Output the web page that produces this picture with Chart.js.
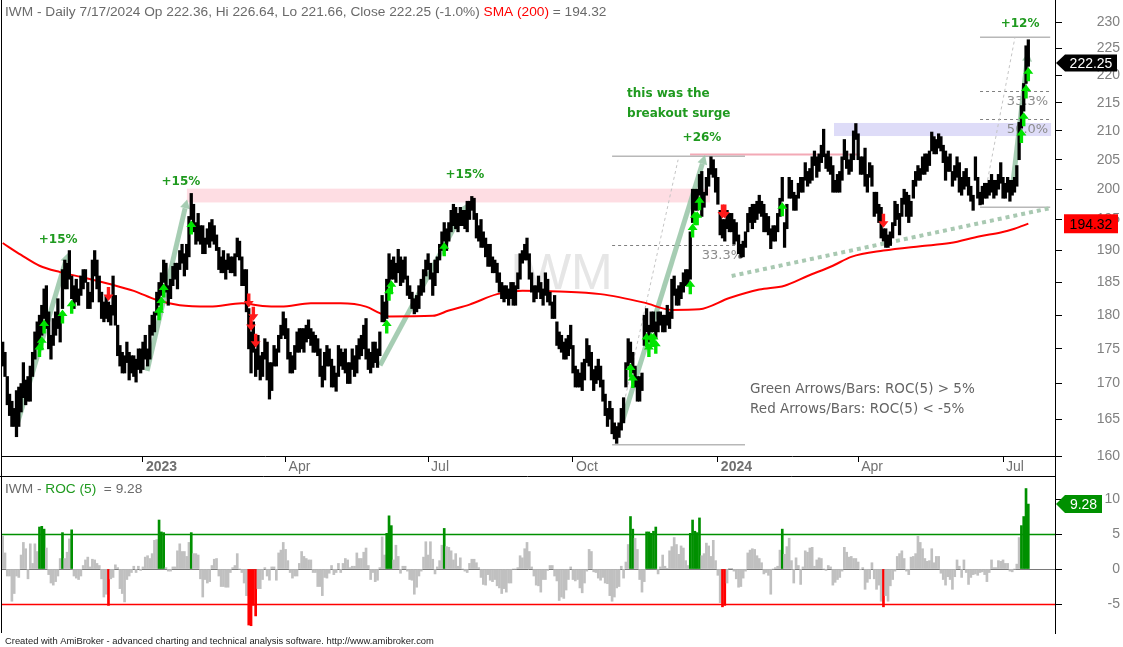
<!DOCTYPE html>
<html>
<head>
<meta charset="utf-8">
<script src="https://cdn.jsdelivr.net/npm/chart.js@4.4.1/dist/chart.umd.min.js"></script>
<style>
  html, body { margin: 0; padding: 0; background: #fff; }
  #wrap { position: relative; width: 1123px; height: 647px; overflow: hidden; background: #fff; }
  #price { position: absolute; left: 0; top: 0; }
  #roc { position: absolute; left: 0; top: 476px; }
</style>
</head>
<body>
<div id="wrap">
  <canvas id="price" width="1123" height="476"></canvas>
  <canvas id="roc" width="1123" height="171"></canvas>
</div>
<script>
// daily bars, index 0 = 10/5/2022 ... 446 = 7/17/2024 (one line per month)
const lo = [
  172.5,171,167,165.5,164,164,162.6,164,166,168,167,167.5,167.5,171,173.5,175,176,177,179.5,
  178,175,173.5,175.5,177,178,176,181,184,184,185.5,182.5,181,182,181.5,183,184,185,181,181,182,
  186,184,182,179.5,179,179.5,179,178.5,180,178.5,174,172.5,171.5,171.5,173,170.5,171.5,171,170.2,172,171.5,
  172,173.5,172.5,173.5,177,177.5,180,181.5,183,185,183.5,181.5,182.5,184.5,185.5,184,187,188,186,187,
  189,195,193,191,191.5,191,189.5,189.5,191,190.5,191.5,191,190,187,186.5,186.5,185.5,187,186.5,
  186.5,186,189,188.5,184.5,184.5,180.5,175,171.5,174.5,171,172,170.5,171,173.5,170.5,167.8,169,172.5,172.5,174.5,176.5,177,
  176.5,173.5,171.5,171.5,172,174.5,174.5,175,174.5,176,176.5,175.5,174.5,174.5,174,171,169.5,170.5,172.5,
  172.5,169.5,169.5,168.9,171,172.5,172,171.5,170,170,172,171,171.5,173.5,174,175,173.5,172,171.5,172.3,173,172.3,
  174,179,179,179.5,184.5,185.5,185.5,185,186.5,184.5,185,185.5,183,182.5,181,180.2,180.5,181,183,183.5,186,
  187,185.5,183,184.5,186.5,188.5,190,191.5,190,191.5,193,194,193.5,193,194,194,193.5,193,195,196.5,
  195,192,191.5,190.5,190.5,189,187.5,187.5,186.5,186.5,185,183.5,182.5,182,182.5,181.5,182.5,181.5,181.5,184,185.5,188,188.5,
  188.5,185.5,183.5,182,182.5,183.5,182.5,181.5,183,182,181.5,179.5,179.5,175.5,175,174.5,173.5,173.5,174,175,
  171.5,169.5,169.5,169.5,169,170.5,173,172.5,170.5,169,170,170.5,169.5,167.5,165.5,164,165,163,162.3,161.7,162.5,163.5,
  164.5,169.5,172.5,173,171.5,169.5,167.5,167.5,169,175.5,177.5,176,177.5,177.5,176.5,177.5,178.5,177.5,177.5,178.5,178,
  179.5,183,181.5,181.5,182.5,183.5,184.5,184.5,185.5,194.5,196.5,196.5,199,195.5,197,199,200.5,202.5,202,199.5,
  197.5,192.5,192,191.5,193.5,193,193,191,191.5,189.5,188.9,189,190.5,193,194.5,193.5,194.5,195,196,195.5,193,
  193,192.5,190.3,191.5,191.5,193,195.5,198,190.5,193.5,198.5,198.5,196.5,196.5,198.5,199.5,199.5,201.5,200.5,201,
  201.5,204,202,203,204.5,205.5,203.5,203,202.5,199.5,199.5,199.5,199.5,201.5,205,203.5,202.5,203,205,208.5,
  205,202.5,202.5,200.5,199.5,202,200.5,195.5,196,194.5,192,191.5,190.5,190.5,190.8,192,194,195,192.5,195.5,197.5,195.5,
  194.5,195.5,198.5,200.5,201.5,201.5,202.5,202.5,203,204,206.5,206,206,207,206.5,204.5,201.5,203,203,200.5,201.5,202,
  199.5,199,200,200.5,199,198,196.5,201.5,198.5,197.4,197.5,198.5,198.5,199,199.5,198.5,199,200,201,
  198.5,198.5,199.5,198,199,199.5,200.5,205,210.5,213.5,218.5,221.66
];
const hi = [
  176,174.5,171,168.5,167.5,166.5,169,169.5,170,173,170.5,171,172.5,174.5,177.5,179,180,181.5,184,
  184.5,180.5,177,179.5,180.5,182.5,180,187,188.5,188,190,186,184.5,185.5,184,186,187,187,185,183.5,188.5,
  190,188.5,186,183.5,182,183,182,181.5,186,183,178.5,175.5,174.5,174,176,174.5,174,174,173.5,175,175,
  176,177,175,178.5,180,180.5,183.5,185,186.5,188.5,188,184.5,185.5,187.5,188,188,190,191,189.5,191,
  195.5,199.3,197.5,194.5,196,194,194,192,193.5,194.5,195,194,192.5,190.5,189,190,188.5,189.5,189,
  189,189.5,192,191.5,189,187,187,181,177.5,179,175,177,174,174.5,176.5,176,173,173,175.5,175,177,178.5,180.5,
  179.5,178,174.5,174,175.5,177.5,178,178,178,178.5,179.3,178,177.5,177,176.5,175,172.5,174.5,175.5,
  175,173.5,172.5,171.5,175.5,175,174.5,175,173,173,175,174,175.5,176.5,177,178.5,179.5,175,174.5,176,176,175,
  177.5,183,182,185.5,189.5,188.5,189,188,190.2,189,188.5,189,186,184.5,183.5,182.5,183,184.5,185.5,187,188.5,
  189.5,188,186.5,188.5,189,191,193,194.5,193.5,194.5,196.5,197.5,197,196,197,196.5,196.5,198,198,198.8,
  198.5,196,194,195,193,192,191,191,189,188.5,188,186.5,185,184.5,184.5,184,185,185,184.5,186.5,189.5,190,191,
  192,189.5,186.5,184.5,184.5,186,185,184,186.5,185.5,183.5,182,183,179,177.5,177,176,176.5,177,178.5,
  175.5,172.5,172,171.5,173,173.5,176.5,175.5,174.5,172,172.5,173.5,172.5,170.5,168.5,166.5,167.5,166.5,164.5,164,164.5,166.5,
  168,173,176.5,176,174.5,172.5,171,171,171.5,180,181,178.5,180.5,180.5,179,180.5,180.5,180,180,181.5,180.5,
  185.5,186,184,184.5,185,186.5,187,187,193,200,200,200,202.5,203,199.5,202,203.5,205.5,205,203.5,
  202,196.5,195,195,196.5,196,196,195,194.5,192.5,191,191.5,193,196,197,197.5,197.5,198,199,198,197.5,
  196,195.5,193.5,194,194,196,198.5,202,194.5,197.5,202,201.5,199.5,199,201,202,202,204.5,203,203.5,
  205.5,206.5,205.5,206,207.5,210.3,206,206.5,205.5,204,201.5,202.5,203,205.5,208.5,206.5,205,206,210,211.3,
  209.5,205.5,205.5,207,202.5,204.5,204,199.5,199.5,197.5,197,193.5,193.5,192.5,193,194.5,198,197.5,196,198.5,200,199.5,
  199,198,201.5,203,204,203.5,205.5,206,206,206.5,209.8,209,208.5,209.5,209,207.5,206.5,205.5,206,203,204,205.5,
  204.5,202,203,203.5,202,200.5,199,205.5,202,199.5,200.5,201,201,201.5,202.5,201.5,201.5,202.5,204.5,
  202,201,202,201.5,201.5,202,204,211.5,214.5,218.5,225.5,226.64
];
// ROC(5) per day, same index
const roc = [
  4.7,2.3,-1,-1,-4.6,-3.5,-1,-1.2,2,3.8,2.9,-1.4,3.6,0.8,3.6,2.5,6,6.1,5.7,
  3,-0.8,-2,-2.3,-1.8,-1,1.5,5.2,1.5,2.4,4.3,5.6,-1,-1.3,-1.5,-1,0.5,1.3,1.7,0.3,1.4,
  1.3,0.8,0.5,-1.4,-4,-3.6,-5.2,-1.4,-1.2,0.6,0.2,-2.8,-3.5,-4.7,-1.5,-1,-0.5,0.4,-0.5,0.4,-0.2,
  0.3,1.7,1.9,1.5,2.2,4.1,4.2,7,5.3,5.2,0.2,-0.3,-0.3,0.3,0.3,2.6,3.6,2.5,2.5,1.8,
  3.8,5.2,2.2,2.2,2,-1.4,-4,-1.5,-2,-1.8,0.5,1.4,1.5,-1,-2.5,-2.5,-2.6,-2.6,-0.5,
  0.2,0.5,2.2,0,-0.5,-2,-3.8,-8,-8.1,-5.2,-6.7,-2.8,-2.8,-1.5,0.2,-1,-1.6,0.3,0.3,-1.6,2.3,2.7,3.8,
  2.8,1.2,-0.5,-1.3,-1,-1,0.8,2.5,1.8,1.5,1.3,1.3,-0.5,-0.5,-2.5,-2.5,-3.8,-1.2,-1.3,
  -0.6,0.5,-0.8,-0.5,0.8,-0.5,0.8,1.5,1.3,0.2,0.4,0.4,2.3,1.5,1.5,2.4,3,0.5,-1.5,-0.5,-1.8,-1.6,
  0.2,4.6,2,5.1,7.6,6.2,1.3,3.4,1.8,-0.6,0.4,0.4,-0.3,-1.5,-1.6,-3.6,-2.6,-1,-0.3,1.7,3.9,
  2,3.9,1.4,-0.7,0.3,1.2,3.4,5.8,3.2,3.1,2.6,1.3,2.2,0.4,1.6,0,-0.3,-0.5,0.8,1.4,
  1.4,0.9,0.2,-1.2,-2.2,-2.3,-0.8,-1.6,-1.8,-1.5,-2.4,-2.7,-3.5,-2.8,-3.3,-2,-2,0,0,0.2,1.9,1.6,2.9,
  3.8,2.5,0.3,-1,-2.3,-2.4,-3.3,-1.5,-1.5,-0.2,0.5,0.5,-1,-1.7,-4.5,-4,-4.2,-3,-1.5,0.3,
  -1.5,-1.7,-1.5,-2.7,-3.4,-2,-0.3,2.8,2.5,-0.4,-0.5,-1.3,-1.6,-1.2,-2,-2.1,-3.8,-4.6,-4,-2.7,-2.5,0.4,
  -1.3,1,3.5,7.5,5.7,4.4,2.8,-1.5,-3.3,-1.8,5.3,5.3,5.1,5.4,6,-0.7,0.3,2,0.4,0.1,2.6,
  3.2,4.5,3.5,2.1,3.3,3,1.2,0.5,5.1,7,5.4,5.2,7.3,1.9,2.2,3.7,3.3,1.8,4.1,1.2,
  -0.9,-4.8,-5.4,-5.2,-2,0.1,0.1,-0.3,-1.4,-2.6,-2.5,-1.3,-0.3,2.3,2.7,2.9,2.8,1.9,1.5,0.9,-0.7,
  -0.5,-0.9,-3.6,0,0.2,0.4,2.7,5.7,2.1,3.2,4.4,1.2,-2,1.6,0.5,-2.2,0.3,2.6,2.4,3,
  3.1,0.4,1.3,1.6,1.5,0,-0.2,0.5,0.3,-2.3,-1.9,-1.5,-1.2,-0.3,3.1,2.4,1.7,1.8,1.5,1.5,
  1,-0.1,0.2,-2.9,-1.9,-1.4,0.9,-1.4,-2.9,-2.3,-4.6,-5.4,-3.8,-4.6,-2.4,-1.5,-0.3,1.8,2.2,2.6,1.5,-0.3,
  -0.8,1.7,1.8,2.2,4.7,3.8,2.9,1.5,1.1,1.2,2.9,0.9,1.8,1.8,-0.6,-1.5,-2.3,-1.1,-1.5,-2.9,-1.1,1.3,
  0.4,-1.2,1.3,-0.5,-2.2,-1.2,-0.8,-0.7,-0.9,-0.5,-0.4,-0.8,-1.8,-0.5,1.3,0.2,0.2,1.2,1.1,
  1.3,0.8,0.8,-0.3,-0.4,0,0.7,4.5,6.2,7.5,11.5,9.28
];
// 200-day SMA read at these bar indexes
const smaIdx = [0,8,16,25,36,46,57,67,77,90,104,113,121,134,147,158,164,168,187,194,
  203,215,226,242,260,279,291,303,316,329,340,350,361,369,383,399,412,425,434,440,446];
const smaVal = [191.2,189.3,187.6,186.6,185.7,184.8,183.7,182.3,181.5,181.3,181.8,181.4,181.3,181.8,181.8,181.3,180.3,179.8,179.9,180.7,
  181.6,183.2,183.7,183.6,183.2,181.9,180.8,180.9,182.6,183.9,184.5,186.0,187.6,189.0,190.0,190.7,191.2,192.3,192.9,193.5,194.32];

const dateTickIdx = [61, 123, 185, 248, 311, 372, 435];
const dateTickLbl = ['2023', 'Apr', 'Jul', 'Oct', '2024', 'Apr', 'Jul'];
const yearTicks = [61, 311];
const priceTicks = [160, 165, 170, 175, 180, 185, 190, 195, 200, 205, 210, 215, 220, 225, 230];
const rocTicks = [-5, 0, 5, 10];
const rocHi = 5, rocLo = -5;

const lastOpen = 222.36, lastHigh = 226.64, lastLow = 221.66, lastClose = 222.25, lastChg = -1.0;
const lastSma = 194.32, lastRoc = 9.28;

// chart notes
const noteText = ['+15%', '+15%', '+15%', '+26%', 'this was the', 'breakout surge', '+12%'];
const noteIdx = [24.1, 77.5, 201, 304.1, 271.5, 271.5, 442.4];
const notePx = [191.7, 201.2, 202.4, 208.7, 216.6, 213.1, 229.6];
const noteAlign = ['center', 'center', 'center', 'center', 'left', 'left', 'center'];

// surge arrows drawn on the chart
const surgeFromIdx = [6.2, 62.8, 164.1, 269.3, 438.9];
const surgeFromPx = [164.2, 171.8, 172.6, 164.5, 199.7];
const surgeToIdx = [28.4, 80.2, 201.9, 305.4, 445.9];
const surgeToPx = [189.6, 198.3, 197.6, 205.8, 224.3];

// zones and lines
const resZone = [80.1, 307.6, 197.8, 200.1];
const resLine = [298.9, 372.8, 205.9];
const topZone = [361.5, 455.9, 209.1, 211.4];
const supLine = [317, 186.0, 456, 196.9];

// retracement sets
const fibFrom = [265, 425];
const fibTo = [322.8, 455.5];
const fibHigh = [205.6, 227.1];
const fibLow = [161.5, 197.0];
const fibLevels = [[0.333], [0.333, 0.5]];
const fibDiag = [[266.3, 161.7, 293.7, 205.0], [426.3, 197.6, 440.2, 227.1]];

const xMin = -0.3, xMax = 457.6;
const SANS = '"Liberation Sans", Arial, sans-serif';
const VERD = '"DejaVu Sans", Verdana, sans-serif';
const GREEN_TXT = '#1f9a1f';

function arrow(ctx, x, tip, dir, color) {
  // dir -1: points up (tip on top), 1: points down
  const s = -dir;
  ctx.fillStyle = color;
  ctx.beginPath();
  ctx.moveTo(x, tip);
  ctx.lineTo(x + 5, tip + s * 6.5);
  ctx.lineTo(x + 1.7, tip + s * 6.5);
  ctx.lineTo(x + 1.7, tip + s * 14);
  ctx.lineTo(x - 1.7, tip + s * 14);
  ctx.lineTo(x - 1.7, tip + s * 6.5);
  ctx.lineTo(x - 5, tip + s * 6.5);
  ctx.closePath();
  ctx.fill();
}

function rightBox(ctx, xr, y, w, h, text, bg, fg, pointer) {
  ctx.fillStyle = bg;
  ctx.beginPath();
  if (pointer) {
    ctx.moveTo(xr + 1, y);
    ctx.lineTo(xr + 10, y - h / 2);
    ctx.lineTo(xr + 10 + w, y - h / 2);
    ctx.lineTo(xr + 10 + w, y + h / 2);
    ctx.lineTo(xr + 10, y + h / 2);
  } else {
    ctx.rect(xr + 9, y - h / 2, w, h);
  }
  ctx.closePath();
  ctx.fill();
  ctx.fillStyle = fg;
  ctx.font = '14px ' + SANS;
  ctx.textAlign = 'center';
  ctx.textBaseline = 'middle';
  ctx.fillText(text, xr + (pointer ? 10 : 9) + w / 2, y + 1);
}

const priceDecor = {
  id: 'priceDecor',
  beforeDatasetsDraw(chart) {
    const { ctx, chartArea: a } = chart;
    const X = v => chart.scales.x.getPixelForValue(v);
    const Y = v => chart.scales.y.getPixelForValue(v);
    ctx.save();
    ctx.beginPath();
    ctx.rect(a.left, a.top, a.right - a.left, a.bottom - a.top);
    ctx.clip();

    ctx.font = '50px ' + SANS;
    ctx.fillStyle = '#e6e6e6';
    ctx.textAlign = 'left';
    ctx.textBaseline = 'alphabetic';
    ctx.fillText('IWM', X(220.6), Y(184.0));

    ctx.fillStyle = '#fedde3';
    ctx.fillRect(X(resZone[0]), Y(resZone[3]), X(resZone[1]) - X(resZone[0]), Y(resZone[2]) - Y(resZone[3]));
    ctx.fillStyle = '#dedcf8';
    ctx.fillRect(X(topZone[0]), Y(topZone[3]), X(topZone[1]) - X(topZone[0]), Y(topZone[2]) - Y(topZone[3]));

    ctx.strokeStyle = '#f3a9b6';
    ctx.lineWidth = 2;
    ctx.beginPath();
    ctx.moveTo(X(resLine[0]), Y(resLine[2]));
    ctx.lineTo(X(resLine[1]), Y(resLine[2]));
    ctx.stroke();

    // retracements
    for (let k = 0; k < fibFrom.length; k++) {
      const x0 = X(fibFrom[k]), x1 = X(fibTo[k]);
      ctx.setLineDash([]);
      ctx.strokeStyle = '#b8b8b8';
      ctx.lineWidth = 1.5;
      [fibHigh[k], fibLow[k]].forEach(p => {
        ctx.beginPath(); ctx.moveTo(x0, Y(p)); ctx.lineTo(x1, Y(p)); ctx.stroke();
      });
      ctx.strokeStyle = '#808080';
      ctx.lineWidth = 1;
      ctx.setLineDash([3, 3]);
      fibLevels[k].forEach(l => {
        const p = fibHigh[k] - (fibHigh[k] - fibLow[k]) * l;
        ctx.beginPath(); ctx.moveTo(x0, Math.round(Y(p)) + 0.5); ctx.lineTo(x1, Math.round(Y(p)) + 0.5); ctx.stroke();
      });
      ctx.strokeStyle = '#c4c4c4';
      const d = fibDiag[k];
      ctx.beginPath(); ctx.moveTo(X(d[0]), Y(d[1])); ctx.lineTo(X(d[2]), Y(d[3])); ctx.stroke();
      ctx.setLineDash([]);
      ctx.font = '13px ' + VERD;
      ctx.fillStyle = '#8c8c8c';
      ctx.textAlign = 'right';
      ctx.textBaseline = 'top';
      fibLevels[k].forEach(l => {
        const p = fibHigh[k] - (fibHigh[k] - fibLow[k]) * l;
        ctx.fillText((l * 100).toFixed(1) + '%', x1 - 2, Y(p) + 4);
      });
    }

    // rising support line
    ctx.strokeStyle = '#a9c9b2';
    ctx.lineWidth = 4;
    ctx.setLineDash([4, 4]);
    ctx.beginPath();
    ctx.moveTo(X(supLine[0]), Y(supLine[1]));
    ctx.lineTo(X(supLine[2]), Y(supLine[3]));
    ctx.stroke();
    ctx.setLineDash([]);

    // surge arrows
    ctx.strokeStyle = 'rgba(150,196,166,0.85)';
    ctx.fillStyle = 'rgba(150,196,166,0.85)';
    ctx.lineWidth = 5;
    for (let k = 0; k < surgeFromIdx.length; k++) {
      const x0 = X(surgeFromIdx[k]), y0 = Y(surgeFromPx[k]);
      const x1 = X(surgeToIdx[k]), y1 = Y(surgeToPx[k]);
      const ang = Math.atan2(y1 - y0, x1 - x0);
      const bx = x1 - 9 * Math.cos(ang), by = y1 - 9 * Math.sin(ang);
      ctx.beginPath(); ctx.moveTo(x0, y0); ctx.lineTo(bx, by); ctx.stroke();
      ctx.beginPath();
      ctx.moveTo(x1, y1);
      ctx.lineTo(bx + 5 * Math.sin(ang), by - 5 * Math.cos(ang));
      ctx.lineTo(bx - 5 * Math.sin(ang), by + 5 * Math.cos(ang));
      ctx.closePath();
      ctx.fill();
    }
    ctx.restore();
  },
  afterDatasetsDraw(chart) {
    const { ctx } = chart;
    const X = v => chart.scales.x.getPixelForValue(v);
    const Y = v => chart.scales.y.getPixelForValue(v);
    ctx.save();
    // ROC signal arrows
    for (let i = 0; i < roc.length; i++) {
      if (roc[i] > rocHi) arrow(ctx, X(i), Y(lo[i]) + 1, -1, '#00e400');
      else if (roc[i] < rocLo) arrow(ctx, X(i), Y(hi[i]) - 1, 1, '#ff1a1a');
    }
    // notes
    ctx.font = 'bold 12px ' + VERD;
    ctx.fillStyle = GREEN_TXT;
    ctx.textBaseline = 'middle';
    for (let k = 0; k < noteText.length; k++) {
      ctx.textAlign = noteAlign[k];
      ctx.fillText(noteText[k], X(noteIdx[k]), Y(notePx[k]));
    }
    ctx.font = '13.5px ' + VERD;
    ctx.fillStyle = '#646464';
    ctx.textAlign = 'left';
    ctx.fillText('Green Arrows/Bars: ROC(5) > 5%', X(325), Y(169.1));
    ctx.fillText('Red Arrows/Bars: ROC(5) < -5%', X(325), Y(166.4));
    ctx.restore();
  },
  afterDraw(chart) {
    const { ctx, chartArea: a } = chart;
    const Y = v => chart.scales.y.getPixelForValue(v);
    ctx.save();
    // header
    ctx.font = '13.7px ' + SANS;
    ctx.textAlign = 'left';
    ctx.textBaseline = 'alphabetic';
    let x = 5;
    const part = (t, c) => { ctx.fillStyle = c; ctx.fillText(t, x, 16); x += ctx.measureText(t).width; };
    part('IWM - Daily 7/17/2024 Op ' + lastOpen.toFixed(2) + ', Hi ' + lastHigh.toFixed(2) + ', Lo ' + lastLow.toFixed(2) +
      ', Close ' + lastClose.toFixed(2) + ' (' + lastChg.toFixed(1) + '%) ', '#6a6a6a');
    part('SMA (200)', '#ff0000');
    part(' = ' + lastSma.toFixed(2), '#6a6a6a');
    // frame
    ctx.strokeStyle = '#000';
    ctx.lineWidth = 1;
    ctx.beginPath();
    ctx.moveTo(1.5, 0); ctx.lineTo(1.5, chart.height);
    ctx.moveTo(Math.round(a.right) + 0.5, a.bottom); ctx.lineTo(Math.round(a.right) + 0.5, chart.height);
    ctx.stroke();
    // last value boxes
    rightBox(ctx, a.right, Y(lastSma), 54, 19, lastSma.toFixed(2), '#ff0000', '#000', false);
    rightBox(ctx, a.right, Y(lastClose), 52, 17, lastClose.toFixed(2), '#000', '#fff', true);
    ctx.restore();
  }
};

const rocDecor = {
  id: 'rocDecor',
  beforeDatasetsDraw(chart) {
    const { ctx, chartArea: a } = chart;
    const Y = v => Math.round(chart.scales.y.getPixelForValue(v)) + 0.5;
    ctx.save();
    ctx.lineWidth = 1;
    ctx.strokeStyle = '#7a7a7a';
    ctx.beginPath(); ctx.moveTo(a.left, Y(0)); ctx.lineTo(a.right, Y(0)); ctx.stroke();
    ctx.lineWidth = 1.5;
    ctx.strokeStyle = '#009000';
    ctx.beginPath(); ctx.moveTo(a.left, Y(rocHi)); ctx.lineTo(a.right, Y(rocHi)); ctx.stroke();
    ctx.strokeStyle = '#ff0000';
    ctx.beginPath(); ctx.moveTo(a.left, Y(rocLo)); ctx.lineTo(a.right, Y(rocLo)); ctx.stroke();
    ctx.restore();
  },
  afterDraw(chart) {
    const { ctx, chartArea: a } = chart;
    ctx.save();
    ctx.strokeStyle = '#000';
    ctx.lineWidth = 1;
    ctx.beginPath();
    ctx.moveTo(0, 0.5); ctx.lineTo(a.right, 0.5);
    ctx.moveTo(1.5, 0); ctx.lineTo(1.5, a.bottom);
    ctx.stroke();
    ctx.font = '13.7px ' + SANS;
    ctx.textAlign = 'left';
    ctx.textBaseline = 'alphabetic';
    let x = 5;
    const part = (t, c) => { ctx.fillStyle = c; ctx.fillText(t, x, 17); x += ctx.measureText(t).width; };
    part('IWM - ', '#6a6a6a');
    part('ROC (5)', '#1f9a1f');
    part('  = ' + lastRoc.toFixed(2), '#6a6a6a');
    // footer
    const foot = 'Created with AmiBroker - advanced charting and technical analysis software. http://www.amibroker.com';
    ctx.font = '10px ' + SANS;
    const fs = 10 * 430 / ctx.measureText(foot).width;
    ctx.font = fs.toFixed(2) + 'px ' + SANS;
    ctx.fillStyle = '#222';
    ctx.fillText(foot, 5, 168);
    const yv = chart.scales.y.getPixelForValue(lastRoc);
    rightBox(ctx, a.right, yv, 37, 18, lastRoc.toFixed(2), '#009000', '#fff', true);
    ctx.restore();
  }
};

new Chart(document.getElementById('price'), {
  type: 'bar',
  data: {
    datasets: [
      {
        type: 'line',
        data: smaIdx.map((v, k) => ({ x: v, y: smaVal[k] })),
        borderColor: '#ff0000',
        borderWidth: 2,
        pointRadius: 0,
        cubicInterpolationMode: 'monotone',
        order: 2
      },
      {
        type: 'bar',
        data: lo.map((v, k) => ({ x: k, y: [v, hi[k]] })),
        backgroundColor: '#000',
        barThickness: 2.6,
        order: 1
      }
    ]
  },
  options: {
    responsive: false,
    animation: false,
    devicePixelRatio: 1,
    layout: { padding: { left: 2, right: 3, top: 0, bottom: 0 } },
    plugins: { legend: { display: false }, tooltip: { enabled: false } },
    scales: {
      x: {
        type: 'linear', position: 'bottom', min: xMin, max: xMax, offset: false,
        afterBuildTicks: s => { s.ticks = dateTickIdx.map(v => ({ value: v })); },
        afterFit: s => { s.height = 20; s.paddingLeft = 0; s.paddingRight = 0; },
        ticks: {
          autoSkip: false, maxRotation: 0, align: 'start', labelOffset: 3, padding: -3,
          callback: v => dateTickLbl[dateTickIdx.indexOf(v)],
          color: '#707070',
          font: c => ({ family: SANS, size: 14, weight: yearTicks.includes(c.tick && c.tick.value) ? 'bold' : 'normal' })
        },
        grid: { offset: false, drawOnChartArea: false, drawTicks: true, tickLength: 6, tickColor: '#000' },
        border: { display: true, color: '#000' }
      },
      y: {
        type: 'logarithmic', position: 'right', min: 160, max: 234.3,
        afterBuildTicks: s => { s.ticks = priceTicks.map(v => ({ value: v })); },
        afterFit: s => { s.width = 65; s.paddingTop = 0; s.paddingBottom = 0; },
        ticks: { callback: v => String(v), color: '#808080', font: { family: SANS, size: 14 }, crossAlign: 'far', padding: 0 },
        grid: { drawOnChartArea: false, drawTicks: true, tickLength: 7, tickColor: '#000' },
        border: { display: true, color: '#000' }
      }
    }
  },
  plugins: [priceDecor]
});

new Chart(document.getElementById('roc'), {
  type: 'bar',
  data: {
    datasets: [{
      data: roc.map((v, k) => ({ x: k, y: v })),
      backgroundColor: c => {
        const v = c.raw ? c.raw.y : 0;
        return v > rocHi ? '#009000' : (v < rocLo ? '#ff0000' : '#c0c0c0');
      },
      barThickness: 2
    }]
  },
  options: {
    responsive: false,
    animation: false,
    devicePixelRatio: 1,
    layout: { padding: { left: 2, right: 3, top: 0, bottom: 14 } },
    plugins: { legend: { display: false }, tooltip: { enabled: false } },
    scales: {
      x: { type: 'linear', display: false, min: xMin, max: xMax, offset: false, grid: { offset: false } },
      y: {
        type: 'linear', position: 'right', min: -9.14, max: 13.29,
        afterBuildTicks: s => { s.ticks = rocTicks.map(v => ({ value: v })); },
        afterFit: s => { s.width = 65; s.paddingTop = 0; s.paddingBottom = 0; },
        ticks: { callback: v => String(v), color: '#808080', font: { family: SANS, size: 14 }, crossAlign: 'far', padding: 0 },
        grid: { drawOnChartArea: false, drawTicks: true, tickLength: 7, tickColor: '#000' },
        border: { display: true, color: '#000' }
      }
    }
  },
  plugins: [rocDecor]
});
</script>
</body>
</html>
